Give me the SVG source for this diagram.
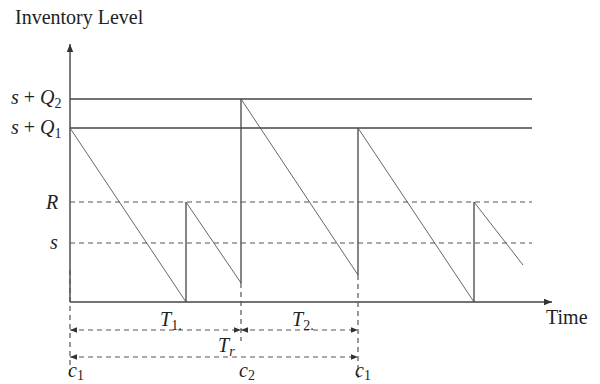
<svg xmlns="http://www.w3.org/2000/svg" width="600" height="384" viewBox="0 0 600 384">
<defs>
<marker id="ah" viewBox="0 0 10 10" refX="10" refY="5" markerWidth="8" markerHeight="8" markerUnits="userSpaceOnUse" orient="auto"><path d="M0,1 L10,5 L0,9 z" fill="#333"/></marker>
<marker id="ahs" viewBox="0 0 10 10" refX="10" refY="5" markerWidth="7" markerHeight="7" markerUnits="userSpaceOnUse" orient="auto-start-reverse"><path d="M0,1 L10,5 L0,9 z" fill="#333"/></marker>
</defs>
<style>
.ax{stroke:#444;stroke-width:1.4;fill:none}
.sol{stroke:#444;stroke-width:1.3;fill:none}
.dia{stroke:#555;stroke-width:0.9;fill:none}
.dash{stroke:#555;stroke-width:1.2;stroke-dasharray:5,4;fill:none}
.t{font-family:"Liberation Serif",serif;font-size:20px;fill:#222}
.m{font-family:"Liberation Serif",serif;font-style:italic;font-size:20px;fill:#222}
.r{font-style:normal}
.sb{font-size:14px}
</style>
<g id="axes">
<line class="ax" x1="70" y1="302" x2="70" y2="44" marker-end="url(#ah)"/>
<line class="ax" x1="70" y1="302" x2="552" y2="302" marker-end="url(#ah)"/>
</g>
<g id="levels">
<line class="sol" x1="70" y1="99" x2="532" y2="99"/>
<line class="sol" x1="70" y1="128" x2="532" y2="128"/>
<line class="dash" x1="70" y1="202" x2="532" y2="202"/>
<line class="dash" x1="70" y1="243" x2="532" y2="243"/>
</g>
<g id="sawtooth">
<line class="dia" x1="70" y1="128" x2="186" y2="302"/>
<line class="sol" x1="186" y1="302" x2="186" y2="202"/>
<line class="dia" x1="186" y1="202" x2="241" y2="283"/>
<line class="sol" x1="241" y1="283" x2="241" y2="99"/>
<line class="dia" x1="241" y1="99" x2="358" y2="275"/>
<line class="sol" x1="358" y1="275" x2="358" y2="128"/>
<line class="dia" x1="358" y1="128" x2="474" y2="302"/>
<line class="sol" x1="474" y1="302" x2="474" y2="202"/>
<line class="dia" x1="474" y1="202" x2="523" y2="265"/>
</g>
<g id="connectors">
<line class="dash" x1="70" y1="270" x2="70" y2="372"/>
<line class="dash" x1="241" y1="283" x2="241" y2="341"/>
<line class="dash" x1="358" y1="275" x2="358" y2="378"/>
<line class="dash" x1="70" y1="330" x2="241" y2="330" marker-start="url(#ahs)" marker-end="url(#ahs)"/>
<line class="dash" x1="241" y1="330" x2="358" y2="330" marker-start="url(#ahs)" marker-end="url(#ahs)"/>
<line class="dash" x1="70" y1="357" x2="358" y2="357" marker-start="url(#ahs)" marker-end="url(#ahs)"/>
</g>
<g id="labels">
<text class="t" x="15" y="24" font-size="20.5">Inventory Level</text>
<text class="m" x="11" y="104">s <tspan class="r">+</tspan> Q<tspan class="r sb" dy="4">2</tspan></text>
<text class="m" x="11" y="134">s <tspan class="r">+</tspan> Q<tspan class="r sb" dy="4">1</tspan></text>
<text class="m" x="46" y="209">R</text>
<text class="m" x="50" y="249">s</text>
<text class="t" x="546" y="324">Time</text>
<text class="m" x="160" y="326">T<tspan class="r sb" dy="4">1.</tspan></text>
<text class="m" x="292" y="326">T<tspan class="r sb" dy="4">2.</tspan></text>
<text class="m" x="218" y="352">T<tspan class="sb" dy="4">r</tspan></text>
<text class="m" x="68" y="377">c<tspan class="r sb" dy="3">1</tspan></text>
<text class="m" x="239" y="377">c<tspan class="r sb" dy="3">2</tspan></text>
<text class="m" x="355" y="377">c<tspan class="r sb" dy="3">1</tspan></text>
</g>
</svg>
